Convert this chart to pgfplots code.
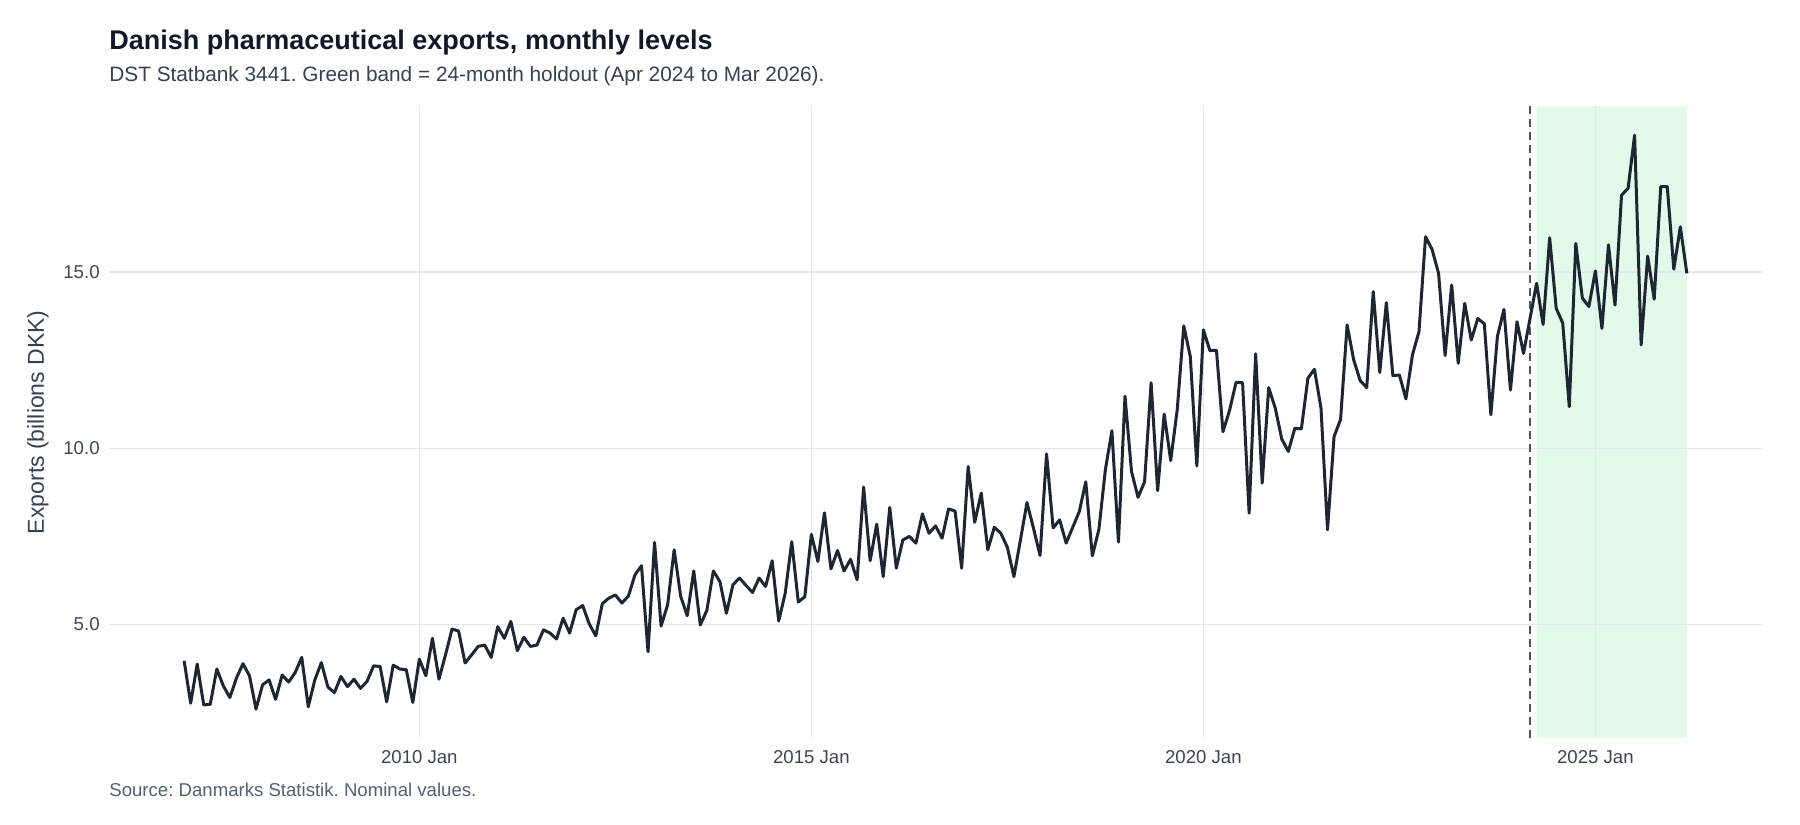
\documentclass[border=0pt]{standalone}
\usepackage{pgfplots}
\pgfplotsset{compat=1.18}
\usepackage{fontspec}
\setmainfont{Liberation Sans}
\frenchspacing
\definecolor{linec}{HTML}{1E2533}
\definecolor{gridc}{HTML}{E3E7EE}
\definecolor{bandc}{HTML}{E2FAEA}
\definecolor{dashc}{HTML}{4B5563}
\definecolor{titlec}{HTML}{111827}
\definecolor{subc}{HTML}{374151}
\definecolor{tickc}{HTML}{3F4652}
\definecolor{capc}{HTML}{556070}
\begin{document}
\begin{tikzpicture}
\begin{axis}[
  set layers,
  scale only axis, width=826.5pt, height=315.7pt,
  xmin=-11.5, xmax=241.5, ymin=1.786, ymax=19.694,
  xtick={36,96,156,216}, xticklabels={2010 Jan,2015 Jan,2020 Jan,2025 Jan},
  ytick={5,10,15}, yticklabels={5.0,10.0,15.0},
  grid=major, major grid style={color=gridc, line width=0.65pt},
  axis line style={draw=none}, major tick length=0pt,
  tick label style={font=\fontsize{9.3}{11}\selectfont, text=tickc},
  xticklabel style={anchor=north, inner sep=0pt, yshift=-6pt},
  yticklabel style={anchor=east, inner sep=0pt, xshift=-4.5pt},
]
\addplot[fill=bandc, draw=none, on layer=axis background] coordinates {(207,1.786) (230,1.786) (230,19.694) (207,19.694) (207,1.786)};
\addplot[dashc, line width=1pt, dash pattern=on 4pt off 2.5pt] coordinates {(206,1.786) (206,19.694)};
\addplot[linec, line width=1.5pt, line join=round] table {
x y
0 3.97
1 2.77
2 3.88
3 2.72
4 2.74
5 3.74
6 3.26
7 2.93
8 3.48
9 3.89
10 3.55
11 2.60
12 3.29
13 3.43
14 2.88
15 3.57
16 3.37
17 3.64
18 4.07
19 2.67
20 3.43
21 3.92
22 3.23
23 3.07
24 3.53
25 3.24
26 3.45
27 3.19
28 3.39
29 3.83
30 3.81
31 2.81
32 3.85
33 3.74
34 3.72
35 2.79
36 4.02
37 3.55
38 4.61
39 3.45
40 4.14
41 4.87
42 4.82
43 3.91
44 4.14
45 4.38
46 4.42
47 4.07
48 4.94
49 4.61
50 5.09
51 4.26
52 4.64
53 4.38
54 4.42
55 4.85
56 4.76
57 4.59
58 5.18
59 4.76
60 5.42
61 5.54
62 5.02
63 4.68
64 5.59
65 5.75
66 5.84
67 5.61
68 5.81
69 6.41
70 6.67
71 4.23
72 7.33
73 4.96
74 5.56
75 7.12
76 5.80
77 5.25
78 6.52
79 4.99
80 5.40
81 6.52
82 6.22
83 5.32
84 6.13
85 6.32
86 6.11
87 5.91
88 6.32
89 6.08
90 6.81
91 5.10
92 5.89
93 7.35
94 5.64
95 5.79
96 7.56
97 6.79
98 8.17
99 6.58
100 7.10
101 6.52
102 6.85
103 6.27
104 8.90
105 6.81
106 7.85
107 6.36
108 8.32
109 6.60
110 7.40
111 7.50
112 7.31
113 8.14
114 7.59
115 7.80
116 7.45
117 8.28
118 8.22
119 6.60
120 9.48
121 7.90
122 8.73
123 7.12
124 7.76
125 7.59
126 7.19
127 6.36
128 7.40
129 8.46
130 7.73
131 6.96
132 9.84
133 7.74
134 7.97
135 7.31
136 7.76
137 8.20
138 9.05
139 6.95
140 7.69
141 9.39
142 10.50
143 7.34
144 11.48
145 9.34
146 8.61
147 9.05
148 11.86
149 8.80
150 10.97
151 9.65
152 11.10
153 13.47
154 12.60
155 9.50
156 13.36
157 12.77
158 12.78
159 10.47
160 11.07
161 11.87
162 11.86
163 8.16
164 12.68
165 9.01
166 11.72
167 11.14
168 10.26
169 9.91
170 10.57
171 10.55
172 11.99
173 12.24
174 11.14
175 7.69
176 10.33
177 10.82
178 13.50
179 12.51
180 11.92
181 11.72
182 14.44
183 12.15
184 14.13
185 12.06
186 12.08
187 11.40
188 12.65
189 13.31
190 16.00
191 15.64
192 14.96
193 12.63
194 14.63
195 12.41
196 14.11
197 13.07
198 13.68
199 13.53
200 10.95
201 13.17
202 13.94
203 11.65
204 13.59
205 12.69
206 13.69
207 14.68
208 13.51
209 15.97
210 13.97
211 13.55
212 11.18
213 15.81
214 14.26
215 14.02
216 15.03
217 13.40
218 15.77
219 14.06
220 17.18
221 17.37
222 18.88
223 12.93
224 15.45
225 14.23
226 17.42
227 17.42
228 15.08
229 16.28
230 14.96
};
\end{axis}
\node[anchor=base west, inner sep=0pt, text=titlec, font=\fontsize{13.5}{16}\selectfont\bfseries] at (0pt,343.95pt) {Danish pharmaceutical exports, monthly levels};
\node[anchor=base west, inner sep=0pt, text=subc, font=\fontsize{10.4}{12.5}\selectfont] at (0pt,328.2pt) {DST Statbank 3441. Green band = 24-month holdout (Apr 2024 to Mar 2026).};
\node[anchor=base west, inner sep=0pt, text=capc, font=\fontsize{9.3}{11}\selectfont] at (0pt,-29.4pt) {Source: Danmarks Statistik. Nominal values.};
\node[rotate=90, inner sep=0pt, text=subc, font=\fontsize{11.5}{13.5}\selectfont] at (-35.5pt,157.85pt) {Exports (billions DKK)};
\pgfresetboundingbox
\path[use as bounding box] (-54.5pt,-43.55pt) rectangle (845.5pt,368.95pt);
\end{tikzpicture}
\end{document}
